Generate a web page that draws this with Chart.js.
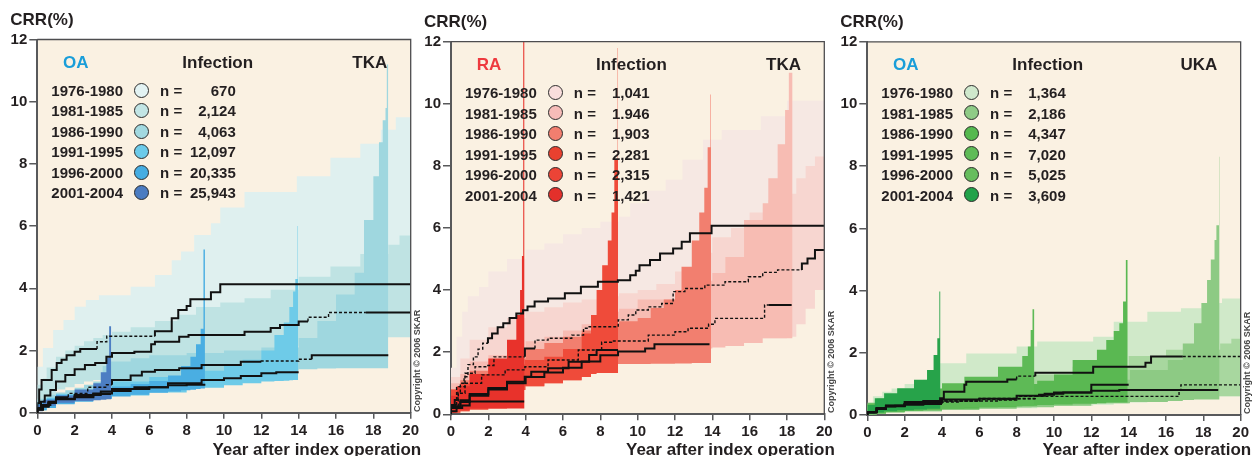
<!DOCTYPE html>
<html>
<head>
  <title>Infection revision rates</title>
  <script src="https://cdn.jsdelivr.net/npm/chart.js"></script>
  <style>
    body { margin: 0; background: #ffffff; }
    #wrap { position: relative; width: 1252px; height: 456px; overflow: hidden; font-family: 'Liberation Sans', Arial, sans-serif; color: #231f20; }
    #wrap canvas { position: absolute; left: 0; top: 0; }
    .t { position: absolute; line-height: 1; font-weight: bold; white-space: nowrap; }
    .dot { position: absolute; width: 15px; height: 15px; border-radius: 50%; border: 1px solid #2b2b2b; box-sizing: border-box; }
    .copy { position: absolute; font-size: 9px; line-height: 9px; font-weight: bold; color: #444; white-space: nowrap; transform: rotate(-90deg); transform-origin: 0 0; }
  </style>
</head>
<body>
<div id="wrap">
  <canvas id="c1" width="1252" height="456"></canvas>
  <canvas id="c2" width="1252" height="456"></canvas>
  <canvas id="c3" width="1252" height="456"></canvas>
</div>

<script>
// ---- legend data
const periods = ['1976-1980', '1981-1985', '1986-1990', '1991-1995', '1996-2000', '2001-2004'];
const oaTkaN = ['670', '2,124', '4,063', '12,097', '20,335', '25,943'];
const raTkaN = ['1,041', '1.946', '1,903', '2,281', '2,315', '1,421'];
const oaUkaN = ['1,364', '2,186', '4,347', '7,020', '5,025', '3,609'];
const xTicks = [0, 2, 4, 6, 8, 10, 12, 14, 16, 18, 20];
const yTicks = [0, 2, 4, 6, 8, 10, 12];

// ---- OA / TKA : curves [year, CRR] and bands [year, lower, upper]
const oaTka76 = [[0,0],[0.1,0.3],[0.23,0.75],[0.77,1.05],[1.04,1.37],[1.3,1.6],[1.57,1.7],[2.0,1.85],[2.3,1.96],[3.2,2.05],[3.72,2.28],[6.3,2.46],[7.2,2.62],[7.55,3.04],[8.0,3.3],[8.2,3.43],[9.3,3.65],[9.8,3.87],[11.1,4.13],[20,4.13]];
const oaTka81 = [[0,0],[0.2,0.15],[0.4,0.35],[0.7,0.55],[1.0,0.73],[1.5,1.0],[2.0,1.21],[2.55,1.4],[3.1,1.53],[3.7,1.6],[4.0,1.8],[5.2,1.92],[6.1,1.96],[6.3,2.2],[7.6,2.28],[8.1,2.44],[11.1,2.5],[12.5,2.6],[13.0,2.72],[14.0,2.82],[14.5,2.93],[15.6,3.07],[17.6,3.22],[20,3.22]];
const oaTka86 = [[0,0],[0.3,0.1],[0.7,0.25],[1.0,0.33],[1.66,0.5],[2.7,0.62],[3.7,0.82],[4.0,0.9],[5.0,1.05],[5.6,1.2],[6.3,1.32],[7.6,1.37],[8.8,1.43],[10.9,1.53],[12.0,1.64],[14.0,1.66],[14.7,1.72],[15.6,1.85],[18.8,1.85]];
const oaTka91 = [[0,0],[0.3,0.1],[0.6,0.2],[1.0,0.35],[2.0,0.45],[3.4,0.57],[4.0,0.68],[5.2,0.76],[7.0,0.82],[8.8,0.95],[10.0,1.05],[10.9,1.11],[12.0,1.18],[12.8,1.27],[13.4,1.3],[14.0,1.3]];
const oaTka96 = [[0,0],[0.3,0.1],[0.6,0.2],[1.0,0.32],[2.0,0.44],[3.0,0.52],[4.0,0.62],[5.0,0.7],[6.0,0.76],[7.0,0.82],[8.0,0.88],[9.0,0.9]];
const oaTka01 = [[0,0],[0.3,0.12],[0.6,0.22],[1.0,0.32],[2.0,0.43],[3.0,0.5],[3.95,0.6]];
const oaTkaBand76 = [[0,0,0.4],[0.3,0.1,1.48],[0.85,0.5,2.08],[1.4,0.8,2.66],[2.0,1.0,2.98],[2.6,1.1,3.41],[3.3,1.2,3.62],[5.0,1.4,3.78],[6.3,1.6,4.05],[7.2,1.8,4.43],[7.7,1.9,4.9],[8.4,2.0,5.18],[9.3,2.1,5.71],[9.8,2.2,6.09],[11.1,2.3,6.6],[13.9,2.4,7.1],[15.7,2.45,7.6],[17.3,2.5,8.2],[18.4,2.5,8.65],[19.2,2.5,9.1],[20,2.5,9.5]];
const oaTkaBand81 = [[0,0,0.3],[0.3,0.1,0.9],[0.5,0.2,1.1],[1.0,0.45,1.45],[1.5,0.75,1.8],[2.0,0.82,2.0],[2.5,0.92,2.15],[3.0,1.0,2.3],[3.5,1.05,2.4],[4.0,1.1,2.5],[5.0,1.25,2.6],[6.3,1.4,2.75],[7.5,1.5,2.95],[8.5,1.6,3.15],[9.8,1.7,3.4],[11.1,1.8,3.54],[12.5,1.9,3.68],[14.0,2.0,3.95],[15.7,2.15,4.37],[17.3,2.3,4.7],[18.8,2.43,5.1],[19.4,2.43,5.4],[20,2.43,5.7]];
const oaTkaBand86 = [[0,0,0.2],[0.5,0.1,0.45],[1.0,0.2,0.58],[1.5,0.3,0.65],[2.0,0.35,0.72],[2.5,0.4,0.8],[3.0,0.45,0.9],[3.5,0.5,1.0],[3.95,0.55,1.5],[5.0,0.65,1.65],[6.0,0.75,1.75],[8.0,0.9,1.85],[10,1.05,1.92],[12,1.2,2.0],[14,1.35,2.1],[15,1.4,2.4],[16,1.42,2.95],[17,1.43,3.8],[17.5,1.43,4.5],[18,1.43,6.2],[18.3,1.43,7.6],[18.5,1.43,8.7],[18.65,1.43,9.4],[18.72,1.43,9.8],[18.79,1.43,11.2],[18.8,1.43,11.2]];
const oaTkaBand91 = [[0,0,0.1],[0.5,0.08,0.35],[1,0.15,0.48],[2,0.28,0.6],[3,0.38,0.72],[4,0.45,0.85],[6,0.55,1.0],[8,0.65,1.15],[10,0.8,1.35],[11,0.88,1.5],[12,0.95,1.7],[12.7,1.0,2.0],[13.2,1.02,2.5],[13.5,1.03,2.9],[13.7,1.04,3.4],[13.82,1.05,3.9],[13.94,1.05,4.3],[13.96,1.05,6.0],[13.97,1.05,6.0]];
const oaTkaBand96 = [[0,0,0.1],[0.5,0.08,0.33],[1,0.15,0.45],[2,0.27,0.57],[3,0.35,0.66],[4,0.45,0.76],[5,0.52,0.84],[6,0.58,0.92],[7,0.64,1.02],[7.7,0.68,1.2],[8.2,0.72,1.5],[8.5,0.74,1.8],[8.75,0.76,2.2],[8.9,0.78,2.7],[8.97,0.78,5.25],[8.98,0.78,5.25]];
const oaTkaBand01 = [[0,0,0.1],[0.3,0.05,0.25],[1,0.22,0.42],[2,0.32,0.55],[3,0.38,0.75],[3.4,0.4,0.95],[3.7,0.42,1.3],[3.85,0.43,1.76],[3.94,0.43,2.78],[3.96,0.43,2.78]];
const oaTkaDash = [[[2.4,6.3],[11.9,20]], [[14.3,17.6]], [[1.5,3.9],[12,14.5]], [], [], []];

// ---- RA / TKA
const raTka76 = [[0,0],[0.2,0.2],[0.37,0.46],[0.5,0.7],[0.7,1.0],[0.91,1.21],[1.2,1.6],[1.45,1.85],[1.7,2.1],[1.98,2.29],[2.2,2.45],[2.5,2.6],[2.8,2.8],[3.14,2.93],[3.5,3.1],[3.86,3.25],[4.1,3.35],[4.48,3.47],[5.2,3.63],[6.1,3.73],[6.96,3.9],[7.87,4.11],[8.94,4.27],[9.6,4.32],[9.9,4.48],[10.1,4.62],[10.66,4.8],[11.2,4.97],[11.9,5.18],[12.36,5.34],[12.8,5.56],[13.96,5.83],[14.3,6.07],[20,6.07]];
const raTka81 = [[0,0],[0.3,0.3],[0.75,0.89],[1.29,1.32],[1.9,1.53],[2.3,1.57],[3.96,1.85],[4.5,2.12],[5.2,2.39],[6.47,2.45],[7.1,2.55],[7.4,2.77],[8.96,2.82],[9.5,3.04],[9.9,3.2],[10.57,3.36],[11.29,3.46],[11.9,3.57],[12.53,3.95],[13.6,4.05],[14.68,4.16],[15.93,4.27],[16.7,4.43],[17.5,4.57],[18.8,4.65],[19.1,4.86],[19.5,5.02],[19.7,5.29],[20,5.29]];
const raTka86 = [[0,0],[0.39,0.25],[0.75,0.68],[1.64,1.0],[2.9,1.27],[3.96,1.43],[5.2,1.53],[6.82,1.75],[8.07,2.07],[8.6,2.32],[10.57,2.36],[12,2.55],[12.7,2.66],[13.8,2.77],[14.14,2.9],[16.8,3.09],[17,3.52],[18.25,3.52]];
const raTka91 = [[0,0],[0.5,0.2],[1,0.4],[2,0.6],[3,0.8],[4,1.0],[5,1.2],[6,1.35],[7,1.5],[8,1.7],[8.95,1.9],[10.4,2.02],[10.9,2.12],[11.6,2.26],[13.85,2.26]];
const raTka96 = [[0,0],[0.5,0.25],[1,0.45],[2,0.65],[3,0.85],[3.95,1.05],[4.3,1.21],[5.2,1.37],[6.3,1.48],[7.4,1.69],[7.8,1.91],[8.5,2.07],[8.95,2.07]];
const raTka01 = [[0,0],[0.3,0.1],[0.6,0.2],[1.0,0.28],[1.9,0.41],[3.92,0.41]];
const raTkaBand76 = [[0,0,0.5],[0.3,0.1,1.5],[0.6,0.3,2.5],[0.9,0.5,3.3],[1.5,0.8,3.8],[2,1.1,4.1],[3,1.5,4.6],[4,1.9,5.0],[5,2.2,5.3],[6,2.4,5.5],[7,2.6,5.8],[8,2.8,6.0],[9,3.0,6.2],[9.6,3.1,6.36],[10.5,3.2,6.8],[11.5,3.3,7.2],[12.4,3.4,7.55],[13.5,3.5,8.2],[14.5,3.6,8.84],[16.6,3.8,9.16],[18,4.0,9.6],[20,4.1,10.1]];
const raTkaBand81 = [[0,0,0.3],[0.5,0.2,1.2],[1,0.4,1.8],[2,0.7,2.4],[3,0.9,2.8],[4,1.1,3.1],[5,1.3,3.3],[6,1.4,3.45],[7,1.5,3.6],[8,1.6,3.7],[9,1.7,3.8],[10,1.8,3.9],[11,1.9,4.0],[12,2.0,4.2],[13,2.05,4.6],[14,2.15,5.2],[15,2.2,5.7],[16,2.3,6.0],[17,2.45,6.5],[18,2.45,6.9],[18.5,2.5,7.1],[19,2.9,7.6],[19.5,3.4,8.0],[20,4.0,8.3]];
const raTkaBand86 = [[0,0,0.4],[0.5,0.15,1.0],[1,0.3,1.3],[2,0.5,1.7],[3,0.65,1.9],[4,0.8,2.05],[5,0.95,2.35],[6,1.05,2.5],[7,1.15,2.7],[8,1.35,2.9],[9,1.62,3.3],[10,1.65,3.4],[12,1.9,3.7],[13,2.0,3.9],[14,2.12,4.3],[14.7,2.15,4.55],[15.7,2.2,5.07],[16.7,2.3,6.26],[17,2.45,6.8],[17.5,2.45,7.6],[17.9,2.45,8.7],[18.1,2.45,9.8],[18.22,2.45,11.0],[18.3,2.45,11.0]];
const raTkaBand91 = [[0,0,0.3],[0.5,0.05,0.8],[1,0.1,1.1],[2,0.2,1.4],[3,0.35,1.6],[4,0.78,1.8],[5,0.9,2.1],[6,1.0,2.3],[7,1.1,2.5],[8,1.33,2.7],[9,1.62,2.9],[10,1.62,3.0],[10.7,1.62,3.1],[11.4,1.63,3.42],[12,1.63,3.7],[12.35,1.64,4.0],[12.9,1.64,4.75],[13.3,1.65,5.6],[13.57,1.65,6.5],[13.75,1.65,7.3],[13.9,1.65,8.6],[13.92,1.65,10.3],[13.93,1.65,10.3]];
const raTkaBand96 = [[0,0,0.3],[0.5,0.05,0.8],[1,0.1,1.0],[2,0.15,1.3],[3,0.19,1.5],[3.95,0.78,1.6],[5,0.9,1.75],[6,1.0,1.85],[7,1.1,2.1],[7.5,1.2,2.6],[7.8,1.3,3.2],[8.1,1.33,4.0],[8.4,1.33,4.8],[8.6,1.33,5.6],[8.75,1.33,6.5],[8.93,1.33,8.2],[8.94,1.33,11.8],[8.95,1.33,11.8]];
const raTkaBand01 = [[0,0,0.3],[0.3,0.05,0.6],[1,0.15,0.9],[2,0.19,1.3],[3,0.19,1.8],[3.5,0.19,2.4],[3.7,0.19,3.2],[3.8,0.19,4.0],[3.87,0.19,5.1],[3.93,0.19,12],[3.94,0.19,12]];
const raTkaDash = [[[0.3,1.8],[15.5,20]], [[0.2,3.9],[4.5,18.8]], [[0.3,17]], [], [], []];

// ---- OA / UKA
const oaUka76 = [[0,0],[0.5,0.1],[1,0.2],[1.5,0.27],[2,0.3],[3,0.35],[3.9,0.45],[4.1,0.54],[5.2,0.75],[5.3,0.97],[7.5,1.07],[8,1.14],[9,1.25],[12.1,1.36],[14.9,1.55],[15.2,1.68],[16.9,1.88],[20,1.88]];
const oaUka81 = [[0,0],[0.5,0.08],[1,0.18],[2,0.28],[4,0.38],[6,0.45],[9,0.53],[10,0.6],[16.7,0.6],[16.8,0.8],[17.7,0.97],[20,0.97]];
const oaUka86 = [[0,0],[0.5,0.1],[1,0.2],[2,0.3],[4,0.42],[6,0.5],[8,0.52],[9.5,0.62],[10.5,0.68],[12,0.72],[13.5,0.78],[18.8,0.8]];
const oaUka91 = [[0,0],[0.5,0.08],[1,0.2],[2,0.28],[4,0.35],[6,0.45],[8,0.5],[9.2,0.6],[10,0.65],[12,0.72],[13.4,0.97],[14,0.97]];
const oaUka96 = [[0,0],[0.5,0.1],[1,0.22],[2,0.3],[4,0.37],[5,0.42],[7,0.45],[8,0.48],[9,0.52]];
const oaUka01 = [[0,0],[0.5,0.1],[1,0.22],[2,0.3],[3,0.33],[3.9,0.38]];
const oaUkaBand76 = [[0,0,0.1],[0.3,0.02,0.3],[0.8,0.05,0.6],[1.3,0.08,0.75],[2,0.1,0.85],[3,0.12,1.0],[3.9,0.15,1.13],[5.3,0.17,1.66],[8,0.2,1.98],[9.1,0.22,2.2],[12.1,0.3,2.36],[13.2,0.33,2.52],[15,0.4,3.0],[16.8,0.48,3.32],[17.9,0.55,3.43],[19,0.6,3.6],[20,0.6,3.75]];
const oaUkaBand81 = [[0,0,0.15],[0.5,0.02,0.4],[1,0.05,0.55],[2,0.08,0.62],[4,0.12,0.7],[6,0.18,0.9],[8.8,0.24,1.13],[11,0.3,1.3],[14,0.38,1.55],[16,0.45,1.9],[17.8,0.55,2.1],[18.9,0.6,2.1],[19.5,0.6,2.3],[20,0.6,2.45]];
const oaUkaBand86 = [[0,0,0.12],[0.5,0.02,0.35],[1,0.05,0.5],[2,0.08,0.6],[4,0.12,0.68],[6,0.16,0.8],[8,0.2,0.9],[10,0.25,1.0],[12,0.3,1.07],[14.07,0.38,1.13],[16.1,0.42,1.45],[16.9,0.45,1.77],[17.5,0.48,2.3],[17.9,0.5,2.95],[18.2,0.5,3.6],[18.4,0.5,4.34],[18.6,0.5,5.0],[18.7,0.5,5.63],[18.84,0.5,6.1],[18.86,0.5,8.3],[18.87,0.5,8.3]];
const oaUkaBand91 = [[0,0,0.15],[0.5,0.02,0.35],[1,0.05,0.5],[2,0.1,0.6],[4,0.15,0.75],[6,0.2,0.85],[8,0.25,0.95],[9.1,0.3,1.0],[10,0.32,1.1],[11,0.34,1.3],[12.3,0.36,1.77],[12.8,0.38,2.1],[13.2,0.4,2.41],[13.5,0.4,2.7],[13.7,0.4,2.95],[13.85,0.4,3.65],[13.93,0.4,4.98],[13.95,0.4,4.98]];
const oaUkaBand96 = [[0,0,0.2],[0.5,0.03,0.38],[1,0.06,0.45],[2,0.1,0.6],[3,0.13,0.7],[4,0.16,0.85],[5.2,0.2,1.02],[7,0.25,1.23],[8.3,0.28,1.55],[8.6,0.3,1.9],[8.75,0.3,2.2],[8.85,0.3,2.73],[8.92,0.3,3.4],[8.95,0.3,3.4]];
const oaUkaBand01 = [[0,0,0.15],[0.4,0.03,0.32],[0.9,0.08,0.54],[1.6,0.12,0.7],[2.5,0.15,0.86],[3.2,0.18,1.13],[3.55,0.2,1.45],[3.75,0.2,1.93],[3.86,0.2,2.47],[3.9,0.2,3.97],[3.92,0.2,3.97]];
const oaUkaDash = [[[8,9],[16.8,20]], [[0.5,18.5]], [], [[4,9]], [[2,9]], []];

// colours
const blueBand = ['#dff0ef', '#bfe3e3', '#9fd7df', '#6ecbe8', '#4aaee2', '#4c7ec3'];
const blueDot = ['#e3f3f3', '#c2e5e5', '#a2d9e0', '#6ccbea', '#45ade2', '#4b7cc1'];
const redBand = ['#f6e8e3', '#f7d6d0', '#f7bcb3', '#f27f6f', '#ef4b3a', '#e8322b'];
const redDot = ['#f9dedc', '#f6bcb8', '#f27e6f', '#e8412f', '#ec4436', '#e3302b'];
const greenBand = ['#d0e9c9', '#a8d79f', '#8dca84', '#5ab852', '#5eba56', '#27a34a'];
const greenDot = ['#cfe8cc', '#8fcb86', '#55b94f', '#5fbb57', '#66bd5d', '#22a24a'];

const FONT = "'Liberation Sans', Arial, sans-serif";
const INK = '#231f20';
const AXIS = '#58595b';

const panels = [
  { canvas: 'c1', L: 37.3, R: 410.7, T: 39.5, B: 412.7, group: 'OA', groupColor: '#1a9ed9', joint: 'TKA',
    curves: [oaTka76, oaTka81, oaTka86, oaTka91, oaTka96, oaTka01],
    bands: [oaTkaBand76, oaTkaBand81, oaTkaBand86, oaTkaBand91, oaTkaBand96, oaTkaBand01],
    dash: oaTkaDash, bandColors: blueBand, dotColors: blueDot, n: oaTkaN },
  { canvas: 'c2', L: 451, R: 824.3, T: 41.7, B: 414.3, group: 'RA', groupColor: '#ee3a3f', joint: 'TKA',
    curves: [raTka76, raTka81, raTka86, raTka91, raTka96, raTka01],
    bands: [raTkaBand76, raTkaBand81, raTkaBand86, raTkaBand91, raTkaBand96, raTkaBand01],
    dash: raTkaDash, bandColors: redBand, dotColors: redDot, n: raTkaN },
  { canvas: 'c3', L: 867.3, R: 1240.7, T: 41.8, B: 415, group: 'OA', groupColor: '#1a9ed9', joint: 'UKA',
    curves: [oaUka76, oaUka81, oaUka86, oaUka91, oaUka96, oaUka01],
    bands: [oaUkaBand76, oaUkaBand81, oaUkaBand86, oaUkaBand91, oaUkaBand96, oaUkaBand01],
    dash: oaUkaDash, bandColors: greenBand, dotColors: greenDot, n: oaUkaN }
];

function inDash(ranges, x) {
  return ranges.some(r => x >= r[0] - 1e-6 && x < r[1]);
}

// cream plot background + thin frame
const plotFrame = {
  id: 'plotFrame',
  beforeDraw(chart) {
    const a = chart.chartArea, ctx = chart.ctx;
    ctx.save();
    ctx.fillStyle = '#faf1e2';
    ctx.fillRect(a.left, a.top, a.right - a.left, a.bottom - a.top);
    ctx.restore();
  },
  afterDraw(chart) {
    const a = chart.chartArea, ctx = chart.ctx;
    ctx.save();
    ctx.strokeStyle = '#4d4d4f';
    ctx.lineWidth = 1.3;
    ctx.beginPath();
    ctx.moveTo(a.left, a.top);
    ctx.lineTo(a.right, a.top);
    ctx.lineTo(a.right, a.bottom);
    ctx.stroke();
    ctx.restore();
  }
};

function makePanel(p) {
  const datasets = [];
  // black CRR curves first -> drawn on top
  p.curves.forEach((c, i) => {
    const dash = p.dash[i];
    datasets.push({
      data: c.map(pt => ({ x: pt[0], y: pt[1] })),
      stepped: 'after',
      borderColor: '#111111',
      borderWidth: 2,
      pointRadius: 0,
      fill: false,
      segment: {
        borderDash: s => inDash(dash, s.p0.parsed.x) ? [3, 2] : undefined,
        borderWidth: s => inDash(dash, s.p0.parsed.x) ? 1.4 : undefined
      }
    });
  });
  // confidence bands, newest first so the oldest ends up at the back
  for (let i = p.bands.length - 1; i >= 0; i--) {
    const b = p.bands[i];
    datasets.push({
      data: b.map(pt => ({ x: pt[0], y: pt[2] })),
      stepped: 'after', borderColor: 'rgba(0,0,0,0)', borderWidth: 0, pointRadius: 0,
      fill: '+1', backgroundColor: p.bandColors[i]
    });
    datasets.push({
      data: b.map(pt => ({ x: pt[0], y: pt[1] })),
      stepped: 'after', borderColor: 'rgba(0,0,0,0)', borderWidth: 0, pointRadius: 0,
      fill: false
    });
  }

  new Chart(document.getElementById(p.canvas), {
    type: 'line',
    data: { datasets },
    options: {
      responsive: false,
      animation: false,
      events: [],
      layout: { padding: { left: p.L - 40, right: 1252 - p.R, top: p.T, bottom: 0 } },
      plugins: { legend: { display: false }, tooltip: { enabled: false } },
      scales: {
        x: {
          type: 'linear', min: 0, max: 20,
          afterBuildTicks: s => { s.ticks = xTicks.map(v => ({ value: v })); },
          ticks: { color: INK, font: { family: FONT, size: 15, weight: 'bold' }, padding: 3, maxRotation: 0, autoSkip: false },
          grid: { drawOnChartArea: false, tickLength: 6, color: AXIS, lineWidth: 1.5 },
          border: { color: AXIS, width: 2 },
          afterFit: s => { s.height = 456 - p.B; }
        },
        y: {
          type: 'linear', min: 0, max: 12,
          afterBuildTicks: s => { s.ticks = yTicks.map(v => ({ value: v })); },
          ticks: { color: INK, font: { family: FONT, size: 15, weight: 'bold' }, padding: 2 },
          grid: { drawOnChartArea: false, tickLength: 8, color: AXIS, lineWidth: 1.5 },
          border: { color: AXIS, width: 2 },
          afterFit: s => { s.width = 40; }
        }
      }
    },
    plugins: [plotFrame]
  });
}

// html text helpers (baseline based)
const wrap = document.getElementById('wrap');
function text(str, x, baseline, size, opts) {
  opts = opts || {};
  const d = document.createElement('div');
  d.className = 't';
  d.textContent = str;
  d.style.fontSize = size + 'px';
  d.style.top = (baseline - 0.8465 * size) + 'px';
  if (opts.right) d.style.right = (1252 - x) + 'px';
  else d.style.left = x + 'px';
  if (opts.color) d.style.color = opts.color;
  wrap.appendChild(d);
}

function decorate(p) {
  text('CRR(%)', p.L - 27, p.T - 14, 17);
  text('Year after index operation', p.R + 10.5, 455, 17, { right: true });
  text(p.group, p.L + 25.7, p.T + 29, 17, { color: p.groupColor });
  text('Infection', p.L + 145, p.T + 29, 17);
  text(p.joint, p.L + 350, p.T + 29, 17, { right: true });
  periods.forEach((per, i) => {
    const base = p.T + 56 + i * 20.5;
    text(per, p.L + 14, base, 15);
    text('n =', p.L + 122.8, base, 15);
    text(p.n[i], p.L + 198.5, base, 15, { right: true });
    const dot = document.createElement('div');
    dot.className = 'dot';
    dot.style.left = (p.L + 104.4 - 7.5) + 'px';
    dot.style.top = (base - 5.4 - 7.5) + 'px';
    dot.style.background = p.dotColors[i];
    wrap.appendChild(dot);
  });
  const c = document.createElement('div');
  c.className = 'copy';
  c.textContent = 'Copyright \u00a9 2006 SKAR';
  c.style.left = (p.R + 7 - 4.5) + 'px';
  c.style.top = (p.B - 1) + 'px';
  wrap.appendChild(c);
}

panels.forEach(p => { makePanel(p); decorate(p); });
</script>
</body>
</html>
